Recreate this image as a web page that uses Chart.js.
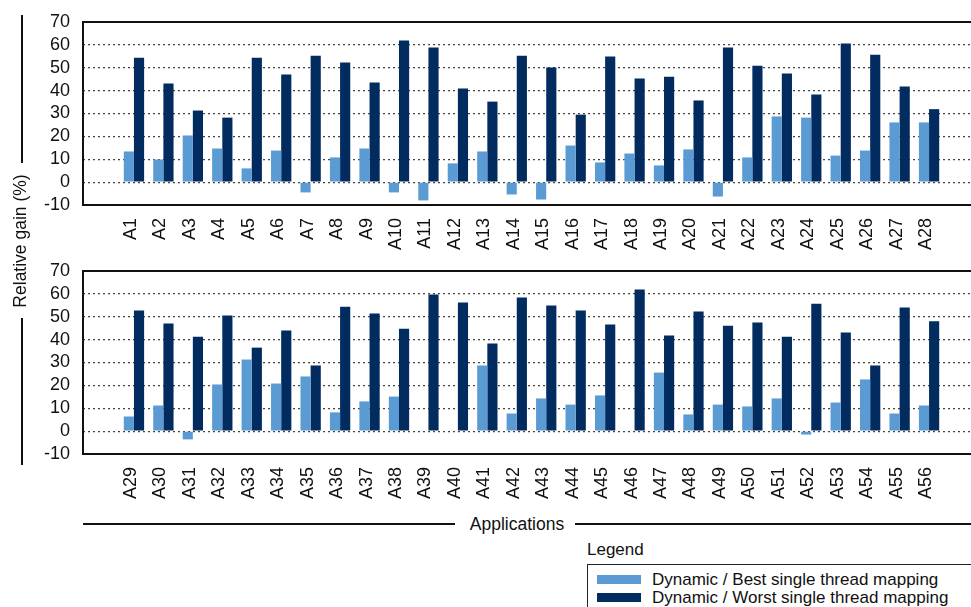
<!DOCTYPE html>
<html lang="en">

<head>
    <meta charset="UTF-8">
    <title>Relative gain per application</title>
    <script src="https://cdn.jsdelivr.net/npm/chart.js"></script>
    <style>
        body {
            margin: 0;
            width: 971px;
            height: 607px;
            overflow: hidden;
            position: relative;
            background: #fff;
            font-family: "Liberation Sans", Arial, sans-serif;
            color: #111;
        }
        .panel {
            position: absolute;
            left: 0;
            width: 980px;
            height: 255px;
        }
        .hline, .vline {
            position: absolute;
            background: #111;
        }
        .hline { height: 1.5px; }
        .vline { width: 1.5px; }
        #ytitle {
            position: absolute;
            left: 20px;
            top: 241px;
            transform: translate(-50%, -50%) rotate(-90deg);
            white-space: nowrap;
            font-size: 17.5px;
        }
        #xtitle {
            position: absolute;
            left: 517px;
            top: 524px;
            transform: translate(-50%, -50%);
            white-space: nowrap;
            font-size: 17.5px;
        }
        #legendTitle {
            position: absolute;
            left: 587px;
            top: 540px;
            font-size: 17px;
        }
        #legend {
            position: absolute;
            left: 587px;
            top: 564px;
            width: 420px;
            height: 60px;
            border: 1.5px solid #222;
            box-sizing: border-box;
        }
        .item {
            position: absolute;
            left: 9px;
            height: 18px;
            font-size: 17px;
            white-space: nowrap;
        }
        .swatch {
            position: absolute;
            left: 0;
            top: 4px;
            width: 44px;
            height: 9px;
        }
        .item span.txt {
            position: absolute;
            left: 55px;
            top: -1px;
        }
    </style>
</head>

<body>
    <div class="panel" style="top:0"><canvas id="topChart"></canvas></div>
    <div class="panel" style="top:249px"><canvas id="bottomChart"></canvas></div>

    <div class="vline" style="left:21px; top:15px; height:148px"></div>
    <div class="vline" style="left:21px; top:318px; height:147px"></div>
    <div id="ytitle">Relative gain (%)</div>

    <div class="hline" style="left:83px; top:523px; width:372px"></div>
    <div class="hline" style="left:575px; top:523px; width:400px"></div>
    <div id="xtitle">Applications</div>

    <div id="legendTitle">Legend</div>
    <div id="legend"></div>

    <script>
        const appsTop = ['A1', 'A2', 'A3', 'A4', 'A5', 'A6', 'A7', 'A8', 'A9', 'A10',
            'A11', 'A12', 'A13', 'A14', 'A15', 'A16', 'A17', 'A18', 'A19', 'A20',
            'A21', 'A22', 'A23', 'A24', 'A25', 'A26', 'A27', 'A28'];
        const appsBottom = ['A29', 'A30', 'A31', 'A32', 'A33', 'A34', 'A35', 'A36', 'A37', 'A38',
            'A39', 'A40', 'A41', 'A42', 'A43', 'A44', 'A45', 'A46', 'A47', 'A48',
            'A49', 'A50', 'A51', 'A52', 'A53', 'A54', 'A55', 'A56'];

        // Dynamic / Best single thread mapping (%)
        const bestTop = [13.4, 9.9, 20.4, 14.7, 6.0, 13.8, -4.5, 10.8, 14.7, -4.5,
            -8.0, 8.2, 13.4, -5.4, -7.6, 16.0, 8.6, 12.5, 7.3, 14.3,
            -6.3, 10.8, 28.7, 28.2, 11.6, 13.8, 26.1, 26.1];
        const bestBottom = [6.4, 11.2, -3.6, 20.4, 31.3, 20.8, 23.9, 8.2, 13.0, 15.1,
            0.3, 0.3, 28.7, 7.7, 14.3, 11.6, 15.6, 0.3, 25.6, 7.3,
            11.6, 10.8, 14.3, -1.5, 12.5, 22.6, 7.7, 11.2];

        // Dynamic / Worst single thread mapping (%)
        const worstTop = [54.4, 43.1, 31.3, 28.2, 54.4, 47.0, 55.3, 52.3, 43.5, 61.9,
            58.8, 40.9, 35.2, 55.3, 50.1, 29.5, 54.9, 45.3, 46.1, 35.7,
            58.8, 50.9, 47.5, 38.3, 60.6, 55.7, 41.8, 31.9];
        const worstBottom = [52.7, 47.0, 41.3, 50.5, 36.5, 44.0, 28.7, 54.4, 51.4, 44.8,
            59.7, 56.2, 38.3, 58.4, 54.9, 52.7, 46.6, 61.9, 41.8, 52.3,
            46.1, 47.5, 41.3, 55.7, 43.1, 28.7, 54.0, 48.0];

        const seriesNames = ['Dynamic / Best single thread mapping', 'Dynamic / Worst single thread mapping'];
        const seriesColors = ['#5b9bd3', '#022b60'];
        const yTicks = [-10, 0, 10, 20, 30, 40, 50, 60, 70];

        const font = "'Liberation Sans', Arial, sans-serif";

        // frame: top, bottom and left lines of each plot
        const framePlugin = {
            id: 'frame',
            afterDraw(chart) {
                const { ctx, chartArea: a } = chart;
                ctx.save();
                ctx.strokeStyle = '#111';
                ctx.lineWidth = 2;
                ctx.beginPath();
                ctx.moveTo(a.right + 5, a.top);
                ctx.lineTo(a.left, a.top);
                ctx.lineTo(a.left, a.bottom);
                ctx.lineTo(a.right + 5, a.bottom);
                ctx.stroke();
                ctx.restore();
            }
        };

        function makeChart(id, labels, best, worst) {
            const toPoints = arr => arr.map((v, i) => ({ x: i + 1, y: v }));
            return new Chart(document.getElementById(id), {
                type: 'bar',
                data: {
                    datasets: [
                        {
                            label: seriesNames[0],
                            data: toPoints(best),
                            backgroundColor: seriesColors[0],
                            categoryPercentage: 0.69,
                            barPercentage: 1.0
                        },
                        {
                            label: seriesNames[1],
                            data: toPoints(worst),
                            backgroundColor: seriesColors[1],
                            categoryPercentage: 0.69,
                            barPercentage: 1.0
                        }
                    ]
                },
                options: {
                    responsive: true,
                    maintainAspectRatio: false,
                    animation: false,
                    layout: { padding: { top: 22, left: 0, right: 0, bottom: 0 } },
                    plugins: {
                        legend: { display: false },
                        tooltip: { enabled: false }
                    },
                    scales: {
                        x: {
                            type: 'linear',
                            offset: false,
                            min: -0.73,
                            max: labels.length + 1.73,
                            grid: { display: false, drawTicks: false, offset: false },
                            border: { display: false },
                            ticks: {
                                stepSize: 1,
                                includeBounds: false,
                                autoSkip: false,
                                minRotation: 90,
                                maxRotation: 90,
                                padding: 13,
                                labelOffset: -3,
                                color: '#111',
                                font: { family: font, size: 18 },
                                callback: v => labels[v - 1] || ''
                            },
                            afterFit: s => { s.height = 50; s.paddingLeft = 0; s.paddingRight = 0; }
                        },
                        y: {
                            min: yTicks[0],
                            max: yTicks[yTicks.length - 1],
                            afterBuildTicks: s => { s.ticks = yTicks.map(v => ({ value: v })); },
                            grid: {
                                drawTicks: false,
                                lineWidth: 1.2,
                                color: c => (c.tick && c.tick.value >= 0 && c.tick.value <= 60) ? '#444' : 'rgba(0,0,0,0)'
                            },
                            border: { display: false, dash: [2, 3] },
                            ticks: {
                                autoSkip: false,
                                padding: 13,
                                color: '#111',
                                font: { family: font, size: 18 }
                            },
                            afterFit: s => { s.width = 83; s.paddingTop = 0; s.paddingBottom = 0; }
                        }
                    }
                },
                plugins: [framePlugin]
            });
        }

        makeChart('topChart', appsTop, bestTop, worstTop);
        makeChart('bottomChart', appsBottom, bestBottom, worstBottom);

        // legend
        const legend = document.getElementById('legend');
        seriesNames.forEach((name, i) => {
            const item = document.createElement('div');
            item.className = 'item';
            item.style.top = (i === 0 ? 6 : 24) + 'px';
            item.innerHTML = '<div class="swatch" style="background:' + seriesColors[i] + '"></div>' +
                '<span class="txt">' + name + '</span>';
            legend.appendChild(item);
        });
    </script>
</body>

</html>
